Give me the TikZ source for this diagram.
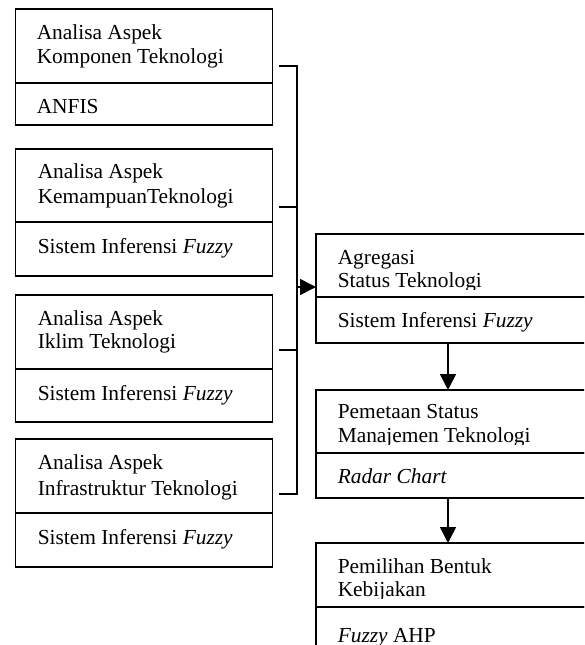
\documentclass[tikz,border=0pt]{standalone}
\usepackage{fontspec}
\setmainfont{Liberation Serif}
\usetikzlibrary{arrows.meta}
\begin{document}
\begin{tikzpicture}[x=1pt,y=-1pt,line width=1.5pt,
  part/.style={draw,rectangle,inner sep=0pt,outer sep=0pt,anchor=north west},
  lpart/.style={part,minimum width=257pt},
  rpart/.style={part,minimum width=290pt},
  txt/.style={anchor=base west,inner sep=0pt,font=\fontsize{21.4}{24}\selectfont},
  conn/.style={line width=1.5pt},
  arr/.style={line width=1.6pt,-{Triangle[length=16pt,width=16pt]}}]
\useasboundingbox (0,0) rectangle (584,645);
\clip (0,0) rectangle (584,645);
% ---------- left boxes ----------
\node[lpart,minimum height=74pt] (L1a) at (15.5,9) {};
\node[lpart,minimum height=42pt] (L1b) at (15.5,83) {};
\node[txt] (t1a) at (36,39) {Analisa Aspek};
\node[txt] (t1b) at (36,63) {Komponen Teknologi};
\node[txt] (t1c) at (36,113) {ANFIS};

\node[lpart,minimum height=73pt] (L2a) at (15.5,149) {};
\node[lpart,minimum height=54pt] (L2b) at (15.5,222) {};
\node[txt] (t2a) at (37,178) {Analisa Aspek};
\node[txt] (t2b) at (37,203) {KemampuanTeknologi};
\node[txt] (t2c) at (37,253) {Sistem Inferensi \textit{Fuzzy}};

\node[lpart,minimum height=74pt] (L3a) at (15.5,295) {};
\node[lpart,minimum height=53pt] (L3b) at (15.5,369) {};
\node[txt] (t3a) at (37,325) {Analisa Aspek};
\node[txt] (t3b) at (37,348) {Iklim Teknologi};
\node[txt] (t3c) at (37,400) {Sistem Inferensi \textit{Fuzzy}};

\node[lpart,minimum height=74pt] (L4a) at (15.5,439) {};
\node[lpart,minimum height=54pt] (L4b) at (15.5,513) {};
\node[txt] (t4a) at (37,469) {Analisa Aspek};
\node[txt] (t4b) at (37,495) {Infrastruktur Teknologi};
\node[txt] (t4c) at (37,544) {Sistem Inferensi \textit{Fuzzy}};

% ---------- right boxes ----------
\node[rpart,minimum height=63pt] (R1a) at (316,234) {};
\node[rpart,minimum height=46pt] (R1b) at (316,297) {};
\begin{scope}
  \clip (316,234) rectangle (600,289.5);
  \node[txt] (u1a) at (337,264) {Agregasi};
  \node[txt] (u1b) at (337,287) {Status Teknologi};
\end{scope}
\node[txt] (u1c) at (337,327) {Sistem Inferensi \textit{Fuzzy}};

\node[rpart,minimum height=63pt] (R2a) at (316,390) {};
\node[rpart,minimum height=45pt] (R2b) at (316,453) {};
\begin{scope}
  \clip (316,390) rectangle (600,444);
  \node[txt] (u2a) at (337,418) {Pemetaan Status};
  \node[txt] (u2b) at (337,442) {Manajemen Teknologi};
\end{scope}
\node[txt] (u2c) at (337,483) {\textit{Radar Chart}};

\node[rpart,minimum height=64pt] (R3a) at (316,543) {};
\node[rpart,minimum height=60pt] (R3b) at (316,607) {};
\begin{scope}
  \clip (316,543) rectangle (600,598);
  \node[txt] (u3a) at (337,573) {Pemilihan Bentuk};
  \node[txt] (u3b) at (337,596) {Kebijakan};
\end{scope}
\begin{scope}
  \clip (316,607) rectangle (600,644);
  \node[txt] (u3c) at (337,642) {\textit{Fuzzy} AHP};
\end{scope}

% ---------- connectors ----------
\coordinate (s1) at (279,66);
\coordinate (s2) at (279,207);
\coordinate (s3) at (279,350);
\coordinate (s4) at (279,494);
\coordinate (j1) at (297,66);
\coordinate (j2) at (297,207);
\coordinate (j3) at (297,350);
\coordinate (j4) at (297,494);
\coordinate (ja) at (297,287);
\coordinate (r1in) at (316,287);
\draw[conn] (s1) -- (j1) -- (j4) -- (s4);
\draw[conn] (s2) -- (j2);
\draw[conn] (s3) -- (j3);
\draw[arr] (ja) -- (r1in);
\coordinate (d1) at (448,343);
\coordinate (d2) at (448,390);
\coordinate (d3) at (448,498);
\coordinate (d4) at (448,543);
\draw[arr] (d1) -- (d2);
\draw[arr] (d3) -- (d4);
\end{tikzpicture}
\end{document}
